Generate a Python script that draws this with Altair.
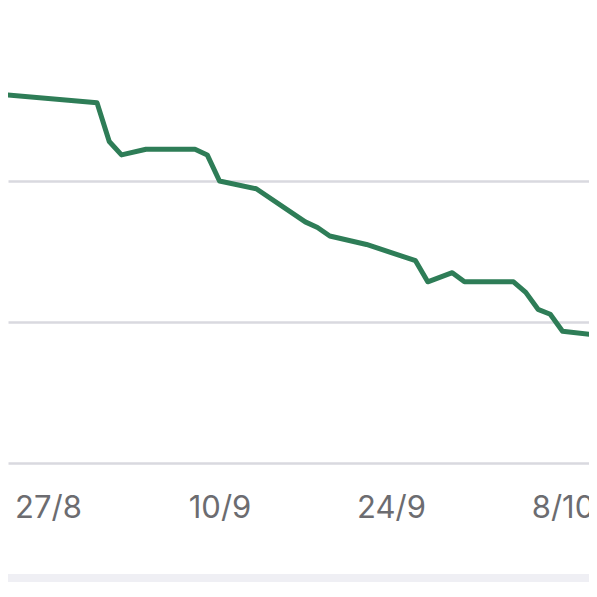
import altair as alt
import pandas as pd

# data
dates = ["2023-08-23", "2023-08-31", "2023-09-01", "2023-09-02", "2023-09-04",
         "2023-09-08", "2023-09-09", "2023-09-10", "2023-09-13", "2023-09-17",
         "2023-09-18", "2023-09-19", "2023-09-22", "2023-09-26", "2023-09-27",
         "2023-09-29", "2023-09-30", "2023-10-04", "2023-10-05", "2023-10-06",
         "2023-10-07", "2023-10-08", "2023-10-11"]
values = [75.23, 75.11, 74.56, 74.37, 74.45,
          74.45, 74.37, 74.00, 73.89, 73.42,
          73.34, 73.22, 73.10, 72.87, 72.57,
          72.70, 72.57, 72.57, 72.42, 72.18,
          72.11, 71.87, 71.81]
tick_dates = ["2023-08-27", "2023-09-10", "2023-09-24", "2023-10-08"]
grid_values = [70, 72, 74]

DAY = 86400000
def ms(s):
    return int(pd.Timestamp(s, tz="UTC").value // 10**6)

W, H = 581, 455
base = ms("2023-08-27")
x_domain = [base - (40 / 12.25) * DAY, base + ((W - 40) / 12.25) * DAY]
y_domain = [70, 70 + 2 * H / 141]

df = pd.DataFrame({"date": dates, "value": values})

line = alt.Chart(df).mark_line(
    color="#2e7d57", strokeWidth=5, strokeJoin="round", clip=True
).encode(
    x=alt.X("date:T",
            scale=alt.Scale(type="utc", domain=x_domain, nice=False),
            axis=alt.Axis(values=[ms(d) for d in tick_dates],
                          labelExpr="utcFormat(datum.value, '%-d/%-m')",
                          title=None, grid=False, domain=False, ticks=False,
                          tickSize=0, labelPadding=54, labelBaseline="alphabetic",
                          labelFont="Inter", labelFontSize=31, labelColor="#6c6c70",
                          labelOverlap=False, labelFlush=False)),
    y=alt.Y("value:Q",
            scale=alt.Scale(domain=y_domain, nice=False, zero=False),
            axis=alt.Axis(values=grid_values, title=None, labels=False, ticks=False,
                          domain=False, grid=True, gridColor="#d9d9df", gridWidth=2.5)),
)

band = alt.Chart(pd.DataFrame({"a": [0]})).mark_rect(color="#efeff4").encode(
    x=alt.value(0), x2=alt.value(W), y=alt.value(566), y2=alt.value(574)
)

chart = alt.layer(line, band).properties(
    width=W, height=H,
    padding={"left": 0, "top": 0, "right": 0, "bottom": 574 - H},
    autosize=alt.AutoSizeParams(type="none"),
).configure_view(stroke=None)

chart.save("out.html", embed_options={"renderer": "svg", "actions": False})
